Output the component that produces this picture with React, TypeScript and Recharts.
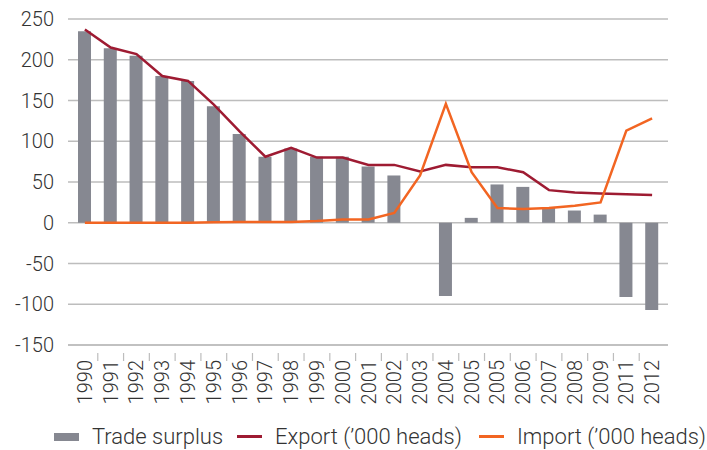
import { ComposedChart, Bar, Line, XAxis, YAxis, CartesianGrid } from 'recharts';

const years = ['1990', '1991', '1992', '1993', '1994', '1995', '1996', '1997', '1998', '1999', '2000', '2001', '2002', '2003', '2004', '2005', '2005', '2006', '2007', '2008', '2009', '2011', '2012'];
const tradeSurplus = [235, 214, 205, 180, 174, 143, 109, 81, 91, 81, 81, 69, 58, 0, -90, 6, 47, 44, 19, 15, 10, -91, -107];
const exportHeads = [237, 215, 207, 180, 174, 145, 112, 81, 92, 80, 80, 71, 71, 63, 71, 68, 68, 62, 40, 37, 36, 35, 34];
const importHeads = [0, 0, 0, 0, 0, 0.5, 1, 1, 1, 2, 4, 4, 12, 58, 146, 62, 18, 17, 18, 21, 25, 113, 128];
const yTicks = [-150, -100, -50, 0, 50, 100, 150, 200, 250];

const data = years.map((year, i) => ({
  year,
  surplus: tradeSurplus[i],
  exp: exportHeads[i],
  imp: importHeads[i],
}));

const FONT = 'Roboto, "Liberation Sans", sans-serif';
const TEXT = '#333333';
const BAR = '#868891';
const EXPORT = '#9e1b32';
const IMPORT = '#f26522';

const PLOT_LEFT = 68;
const PLOT_RIGHT = 668;
const PAD_L = 4;
const PAD_R = 3;
const HALF_BAND = (PLOT_RIGHT - PLOT_LEFT - PAD_L - PAD_R) / years.length / 2;

const YearTick = (props: any) => {
  const { x, y, payload, index } = props;
  return (
    <g transform={`translate(${x},${y})`}>
      {index > 0 && <line x1={-HALF_BAND} x2={-HALF_BAND} y1={0} y2={8} stroke="#bdbdbd" strokeWidth={1.2} />}
      <text transform="rotate(-90)" x={-7} y={0} dy={7} textAnchor="end" fill={TEXT} fontSize={20} fontFamily={FONT} fontWeight={300}>
        {payload.value}
      </text>
    </g>
  );
};

const legendItems = [
  { label: 'Trade surplus', color: BAR, kind: 'bar', left: 54 },
  { label: 'Export (’000 heads)', color: EXPORT, kind: 'line', left: 237 },
  { label: 'Import (’000 heads)', color: IMPORT, kind: 'line', left: 479 },
];

const App = () => {
  return (
    <div style={{ position: 'absolute', left: 0, top: 0, width: 707, height: 450, background: '#fff', overflow: 'hidden' }}>
      <ComposedChart width={707} height={450} data={data} margin={{ top: 19, right: 39, bottom: 45, left: 0 }}>
        <CartesianGrid vertical={false} stroke="#bdbdbd" strokeWidth={1.3} />
        <XAxis
          dataKey="year"
          interval={0}
          height={60}
          padding={{ left: PAD_L, right: PAD_R }}
          axisLine={{ stroke: '#bdbdbd', strokeWidth: 1.3 }}
          tickLine={false}
          tick={<YearTick />}
        />
        <YAxis
          domain={[-150, 250]}
          ticks={yTicks}
          width={68}
          axisLine={false}
          tickLine={false}
          tickMargin={8}
          tick={{ fill: TEXT, fontSize: 20, fontFamily: FONT, fontWeight: 300 }}
        />
        <Bar dataKey="surplus" fill={BAR} barSize={13} isAnimationActive={false} />
        <Line type="linear" dataKey="exp" stroke={EXPORT} strokeWidth={2.5} dot={false} isAnimationActive={false} />
        <Line type="linear" dataKey="imp" stroke={IMPORT} strokeWidth={2.5} dot={false} isAnimationActive={false} />
      </ComposedChart>
      {legendItems.map((item) => (
        <div
          key={item.label}
          style={{
            position: 'absolute',
            left: item.left,
            top: 424,
            display: 'flex',
            alignItems: 'center',
            fontFamily: FONT,
            fontWeight: 300,
            fontSize: 22,
            color: TEXT,
            whiteSpace: 'nowrap',
          }}
        >
          <span
            style={{
              display: 'inline-block',
              width: 25,
              height: item.kind === 'bar' ? 8 : 3,
              background: item.color,
              marginRight: 13,
            }}
          />
          <span>{item.label}</span>
        </div>
      ))}
    </div>
  );
};

export default App;
